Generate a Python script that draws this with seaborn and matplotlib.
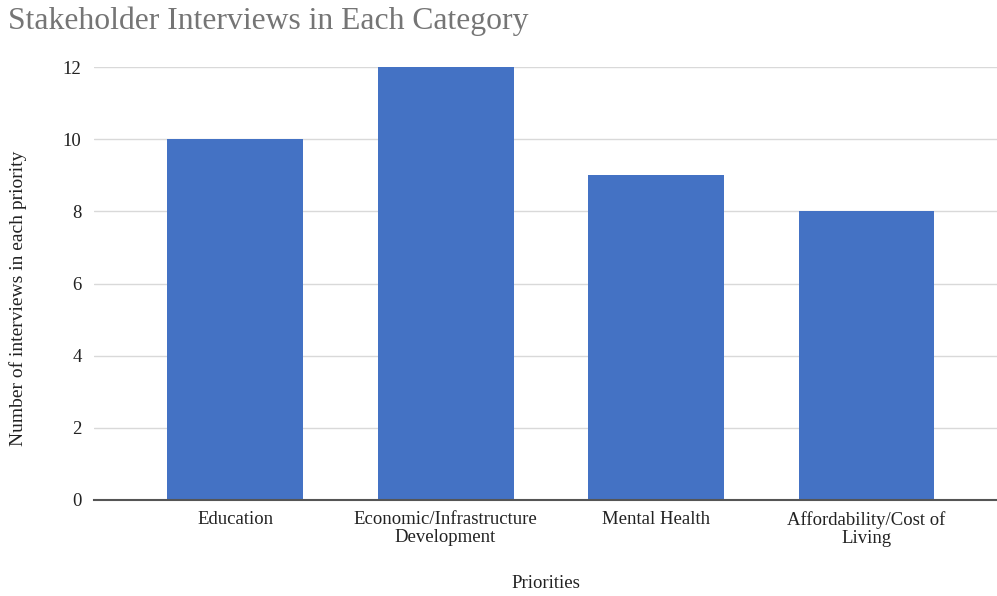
import matplotlib
matplotlib.use("Agg")
import matplotlib.pyplot as plt
import seaborn as sns
import pandas as pd

categories = ["Education", "Economic/Infrastructure\nDevelopment", "Mental Health", "Affordability/Cost of\nLiving"]
interviews = [10, 12, 9, 8]
yticks = [0, 2, 4, 6, 8, 10, 12]

sns.set_theme(style="white")
plt.rcParams['font.family'] = ['Liberation Serif', 'DejaVu Serif']

df = pd.DataFrame({"Priorities": categories, "Interviews": interviews})

fig = plt.figure(figsize=(9.97, 5.96), dpi=100)
ax = fig.add_axes([94/997, 1 - 500/596, 1 - 94/997, (500 - 67)/596])

sns.barplot(data=df, x="Priorities", y="Interviews", color="#4472C4", saturation=1,
            width=0.646, ax=ax, zorder=3, linewidth=0, edgecolor="none")

ax.set_xlim(-0.67, 3.62)
ax.set_ylim(0, 12)
ax.set_yticks(yticks)
ax.set_yticklabels([str(v) for v in yticks])
ax.yaxis.grid(True, color="#d9d9d9", linewidth=1.0, zorder=0)
ax.set_axisbelow(True)
for s in ["top", "right", "left"]:
    ax.spines[s].set_visible(False)
ax.spines["bottom"].set_color("#555555")
ax.spines["bottom"].set_linewidth(1.5)
ax.spines["bottom"].set_zorder(4)

ax.tick_params(axis="y", length=0, pad=9, labelsize=13.5, labelcolor="#222222")
ax.tick_params(axis="x", length=0, pad=8, labelsize=13.5, labelcolor="#222222")
for lbl in ax.get_xticklabels():
    lbl.set_linespacing(1.1)

ax.set_xlabel("Priorities", fontsize=13.5, color="#222222", labelpad=20)
ax.set_ylabel("Number of interviews in each priority", fontsize=14, color="#222222")
ax.yaxis.set_label_coords(-0.074, 0.466)

fig.text(8/997, 1 - 29/596, "Stakeholder Interviews in Each Category", fontsize=22.8,
         color="#757575", ha="left", va="baseline")

fig.savefig("out.png", dpi=100)
